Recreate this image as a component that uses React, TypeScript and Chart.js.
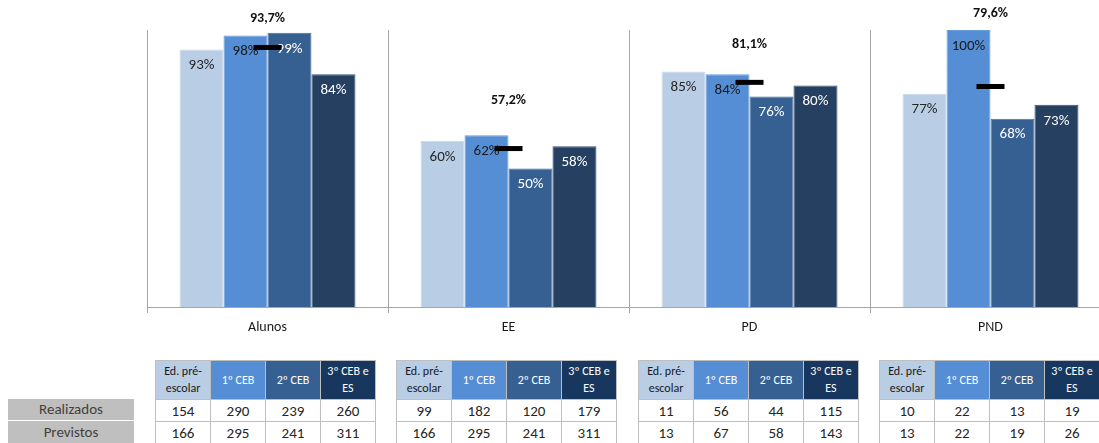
import React, { useEffect, useRef } from "react";
import { Chart, registerables } from "chart.js";

Chart.register(...registerables);

const categories = ["Alunos", "EE", "PD", "PND"];
const levelHeaders = [["Ed. pré-", "escolar"], ["1º CEB"], ["2º CEB"], ["3º CEB e", "ES"]];
const levelNames = ["Ed. pré-escolar", "1º CEB", "2º CEB", "3º CEB e ES"];
const preEscolar = [93, 60, 85, 77];
const ceb1 = [98, 62, 84, 100];
const ceb2 = [99, 50, 76, 68];
const ceb3 = [84, 58, 80, 73];
const average = [93.7, 57.2, 81.1, 79.6];
const averageLabelLevel = [104.3, 74.4, 94.6, 105.8];
const rowNames = ["Realizados", "Previstos"];
const realizados = [
  [154, 290, 239, 260],
  [99, 182, 120, 179],
  [11, 56, 44, 115],
  [10, 22, 13, 19],
];
const previstos = [
  [166, 295, 241, 311],
  [166, 295, 241, 311],
  [13, 67, 58, 143],
  [13, 22, 19, 26],
];

const FONT = "Carlito, Lato, 'Open Sans', sans-serif";
const barColors = ["#B9CDE5", "#558ED5", "#376092", "#254061"];
const barBorders = ["#C9D8EC", "#6A9DDB", "#4A70A0", "#34507A"];
const headerColors = ["#B9CDE5", "#558ED5", "#376092", "#17375E"];
const headerText = ["#1A1A1A", "#FFFFFF", "#FFFFFF", "#FFFFFF"];
const labelColors = ["#262626", "#1A1A1A", "#FFFFFF", "#FFFFFF"];

const CW = 1120;
const CH = 345;

export default function App() {
  const ref = useRef<HTMLCanvasElement | null>(null);

  useEffect(() => {
    if (!ref.current) return;
    const labelPlugin = {
      id: "labels",
      afterDatasetDraw(chart: any, args: any) {
        const meta = args.meta;
        if (meta.type !== "bar") return;
        const ctx = chart.ctx;
        const ds = chart.data.datasets[args.index];
        ctx.save();
        ctx.font = `15px ${FONT}`;
        ctx.textAlign = "center";
        ctx.textBaseline = "middle";
        ctx.fillStyle = labelColors[args.index];
        meta.data.forEach((el: any, i: number) => {
          ctx.fillText(`${ds.data[i]}%`, el.x, el.y + 16);
        });
        ctx.restore();
      },
      afterDraw(chart: any) {
        const ctx = chart.ctx;
        const xs = chart.scales.x;
        const ys = chart.scales.y;
        ctx.save();
        ctx.font = `bold 14px ${FONT}`;
        ctx.textAlign = "center";
        ctx.textBaseline = "middle";
        ctx.fillStyle = "#111";
        average.forEach((v, i) => {
          const x = xs.getPixelForValue(i);
          const y = ys.getPixelForValue(averageLabelLevel[i]);
          ctx.fillText(`${v.toFixed(1).replace(".", ",")}%`, x, y);
        });
        ctx.restore();
      },
    };

    const barSeries = [preEscolar, ceb1, ceb2, ceb3];
    const chart = new Chart(ref.current, {
      type: "bar",
      data: {
        labels: categories,
        datasets: [
          ...barSeries.map((d, k) => ({
            type: "bar" as const,
            label: levelNames[k],
            data: d,
            backgroundColor: barColors[k],
            borderColor: barBorders[k],
            borderWidth: 1,
            categoryPercentage: 0.73,
            barPercentage: 1.0,
            order: 1,
          })),
          {
            type: "line" as const,
            label: "Média",
            data: average,
            showLine: false,
            pointStyle: "line",
            pointRadius: 14,
            pointBorderWidth: 5,
            pointBorderColor: "#000",
            pointBackgroundColor: "#000",
            order: 0,
          } as any,
        ],
      },
      options: {
        responsive: false,
        animation: false,
        events: [],
        layout: { autoPadding: false, padding: { left: 147, right: CW - 1111, top: 30, bottom: 0 } },
        plugins: { legend: { display: false }, tooltip: { enabled: false } },
        scales: {
          x: {
            offset: true,
            grid: {
              offset: true,
              color: "#A6A6A6",
              tickLength: 6,
              drawOnChartArea: true,
            },
            border: { display: true, color: "#A6A6A6" },
            ticks: { color: "#1A1A1A", font: { family: FONT, size: 14 }, padding: 6 },
            afterFit: (s: any) => {
              s.height = 38;
            },
          },
          y: { display: false, min: 0, max: 100 },
        },
      } as any,
      plugins: [labelPlugin],
    });
    return () => chart.destroy();
  }, []);

  const cellBorder = "1px solid #BFBFBF";
  return (
    <div
      style={{
        position: "fixed",
        left: 0,
        top: 0,
        width: 1099,
        height: 443,
        overflow: "hidden",
        background: "#fff",
        fontFamily: FONT,
      }}
    >
      <canvas ref={ref} width={CW} height={CH} style={{ position: "absolute", left: 0, top: 0, width: CW, height: CH }} />
      {rowNames.map((r, k) => (
        <div
          key={r}
          style={{
            position: "absolute",
            left: 8,
            top: k === 0 ? 399 : 421,
            width: 126,
            height: k === 0 ? 21 : 22,
            background: "#BFBFBF",
            color: "#3F3F3F",
            fontSize: 15,
            lineHeight: k === 0 ? "21px" : "22px",
            textAlign: "center",
          }}
        >
          {r}
        </div>
      ))}
      {categories.map((c, t) => (
        <table
          key={c}
          style={{
            position: "absolute",
            left: 155 + Math.round(t * 241.3),
            top: 360,
            width: 221,
            borderCollapse: "collapse",
            tableLayout: "fixed",
            fontFamily: FONT,
          }}
        >
          <tbody>
            <tr style={{ height: 39 }}>
              {levelHeaders.map((h, k) => (
                <td
                  key={k}
                  style={{
                    background: headerColors[k],
                    color: headerText[k],
                    border: cellBorder,
                    fontSize: 12,
                    lineHeight: "17px",
                    textAlign: "center",
                    padding: 0,
                  }}
                >
                  {h.map((ln, j) => (
                    <div key={j}>{ln}</div>
                  ))}
                </td>
              ))}
            </tr>
            {[realizados[t], previstos[t]].map((row, r) => (
              <tr key={r} style={{ height: 22 }}>
                {row.map((v, k) => (
                  <td
                    key={k}
                    style={{
                      border: cellBorder,
                      fontSize: 15,
                      color: "#262626",
                      textAlign: "center",
                      padding: 0,
                      lineHeight: "20px",
                    }}
                  >
                    {v}
                  </td>
                ))}
              </tr>
            ))}
          </tbody>
        </table>
      ))}
    </div>
  );
}
